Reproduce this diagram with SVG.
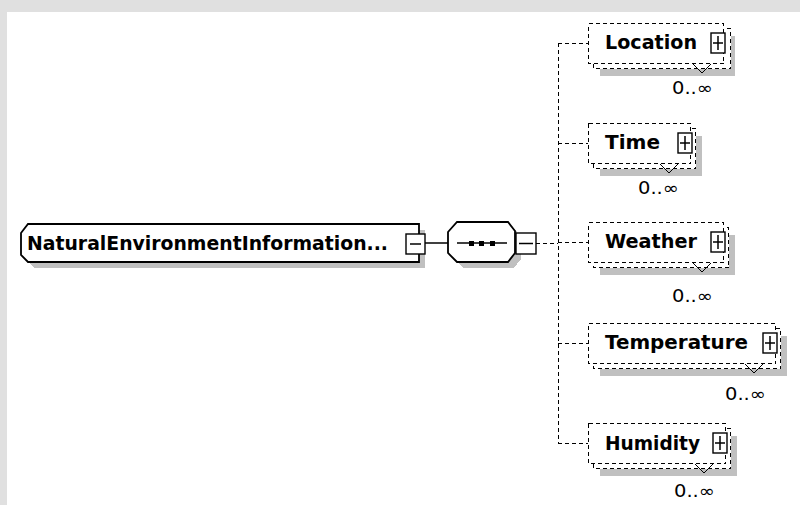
<svg xmlns="http://www.w3.org/2000/svg" width="800" height="505" viewBox="0 0 800 505">
<defs>
<style>
.lbl{font-family:"DejaVu Sans","Liberation Sans",sans-serif;font-weight:bold;font-size:19px;fill:#000}
.occ{font-family:"DejaVu Sans","Liberation Sans",sans-serif;font-size:17px;fill:#000;text-anchor:end}
.dash{fill:none;stroke:#000;stroke-width:1;stroke-dasharray:4 3;shape-rendering:crispEdges}
.dbox{fill:#fff;stroke:#000;stroke-width:1;stroke-dasharray:4 3;shape-rendering:crispEdges}
.shadow{fill:#c0c0c0;shape-rendering:crispEdges}
.solid{fill:none;stroke:#000;stroke-width:1.5}
.shape{fill:#fff;stroke:#000;stroke-width:1.8}
.btn{fill:#fff;stroke:#000;stroke-width:1.4}
.v{fill:none;stroke:#000;stroke-width:1}
</style>
</defs>
<rect width="800" height="505" fill="#e0e0e0"/>
<rect x="7" y="12" width="793" height="493" fill="#fff"/>

<g id="connectors">
<line class="solid" x1="425" y1="243" x2="448" y2="243"/>
<path class="dash" d="M536 243.5 H558 M558.5 43 V443 M558 43.5 H588 M558 143.5 H588 M558 242.5 H588 M558 343.5 H588 M558 443.5 H588"/>
</g>

<g id="NaturalEnvironmentInformation">
<polygon class="shadow" points="27,239 34,230 425,230 425,268 34,268 27,261"/>
<polygon class="shape" points="21,233 28,224 419,224 419,262 28,262 21,255"/>
<text class="lbl" x="27" y="250" textLength="361" lengthAdjust="spacingAndGlyphs">NaturalEnvironmentInformation...</text>
<rect class="btn" x="406" y="234" width="19" height="20"/>
<line class="solid" x1="410" y1="244" x2="421" y2="244"/>
</g>

<g id="sequence">
<polygon class="shadow" points="454,238 463,228 514,228 521,237 521,259 514,268 463,268 454,259"/>
<polygon class="shape" points="448,232 457,222 508,222 515,231 515,253 508,262 457,262 448,253"/>
<line class="solid" x1="457" y1="243" x2="507" y2="243"/>
<rect x="469" y="241" width="5" height="5" fill="#000"/>
<rect x="479" y="241" width="5" height="5" fill="#000"/>
<rect x="490" y="241" width="5" height="5" fill="#000"/>
<rect class="btn" x="516" y="233" width="20" height="21"/>
<line class="solid" x1="519" y1="243.5" x2="533" y2="243.5"/>
</g>

<g id="Location">
<rect class="shadow" x="600" y="36" width="135" height="40"/>
<rect class="dbox" x="593.5" y="28.5" width="137" height="40"/>
<rect class="dbox" x="588.5" y="23.5" width="135" height="40"/>
<polyline class="v" points="693,64 702,73 711,64"/>
<text class="lbl" x="605" y="49" textLength="92" lengthAdjust="spacingAndGlyphs">Location</text>
<rect class="btn" x="711" y="33" width="14" height="20"/>
<path class="solid" d="M713 43 H723 M718 36 V50"/>
<text class="occ" x="713" y="94" textLength="41" lengthAdjust="spacingAndGlyphs">0..∞</text>
</g>

<g id="Time">
<rect class="shadow" x="600" y="136" width="102" height="40"/>
<rect class="dbox" x="593.5" y="128.5" width="102" height="40"/>
<rect class="dbox" x="588.5" y="123.5" width="102" height="40"/>
<polyline class="v" points="660,164 669,173 678,164"/>
<text class="lbl" x="605" y="149" textLength="55" lengthAdjust="spacingAndGlyphs">Time</text>
<rect class="btn" x="678" y="133" width="14" height="20"/>
<path class="solid" d="M680 143 H690 M685 136 V150"/>
<text class="occ" x="679" y="194" textLength="41" lengthAdjust="spacingAndGlyphs">0..∞</text>
</g>

<g id="Weather">
<rect class="shadow" x="600" y="235" width="135" height="40"/>
<rect class="dbox" x="593.5" y="227.5" width="135" height="40"/>
<rect class="dbox" x="588.5" y="222.5" width="135" height="40"/>
<polyline class="v" points="693,263 702,272 711,263"/>
<text class="lbl" x="605" y="248" textLength="92" lengthAdjust="spacingAndGlyphs">Weather</text>
<rect class="btn" x="711" y="232" width="14" height="20"/>
<path class="solid" d="M713 242 H723 M718 235 V249"/>
<text class="occ" x="713" y="302" textLength="41" lengthAdjust="spacingAndGlyphs">0..∞</text>
</g>

<g id="Temperature">
<rect class="shadow" x="600" y="336" width="187" height="40"/>
<rect class="dbox" x="593.5" y="328.5" width="187" height="40"/>
<rect class="dbox" x="588.5" y="323.5" width="187" height="40"/>
<polyline class="v" points="745,364 754,373 763,364"/>
<text class="lbl" x="605" y="349" textLength="143" lengthAdjust="spacingAndGlyphs">Temperature</text>
<rect class="btn" x="763" y="333" width="14" height="20"/>
<path class="solid" d="M765 343 H775 M770 336 V350"/>
<text class="occ" x="766" y="400" textLength="41" lengthAdjust="spacingAndGlyphs">0..∞</text>
</g>

<g id="Humidity">
<rect class="shadow" x="600" y="436" width="137" height="40"/>
<rect class="dbox" x="593.5" y="428.5" width="137" height="40"/>
<rect class="dbox" x="588.5" y="423.5" width="137" height="40"/>
<polyline class="v" points="695,464 704,473 713,464"/>
<text class="lbl" x="605" y="450" textLength="95" lengthAdjust="spacingAndGlyphs">Humidity</text>
<rect class="btn" x="713" y="433" width="14" height="20"/>
<path class="solid" d="M715 443 H725 M720 436 V450"/>
<text class="occ" x="715" y="497" textLength="41" lengthAdjust="spacingAndGlyphs">0..∞</text>
</g>
</svg>
